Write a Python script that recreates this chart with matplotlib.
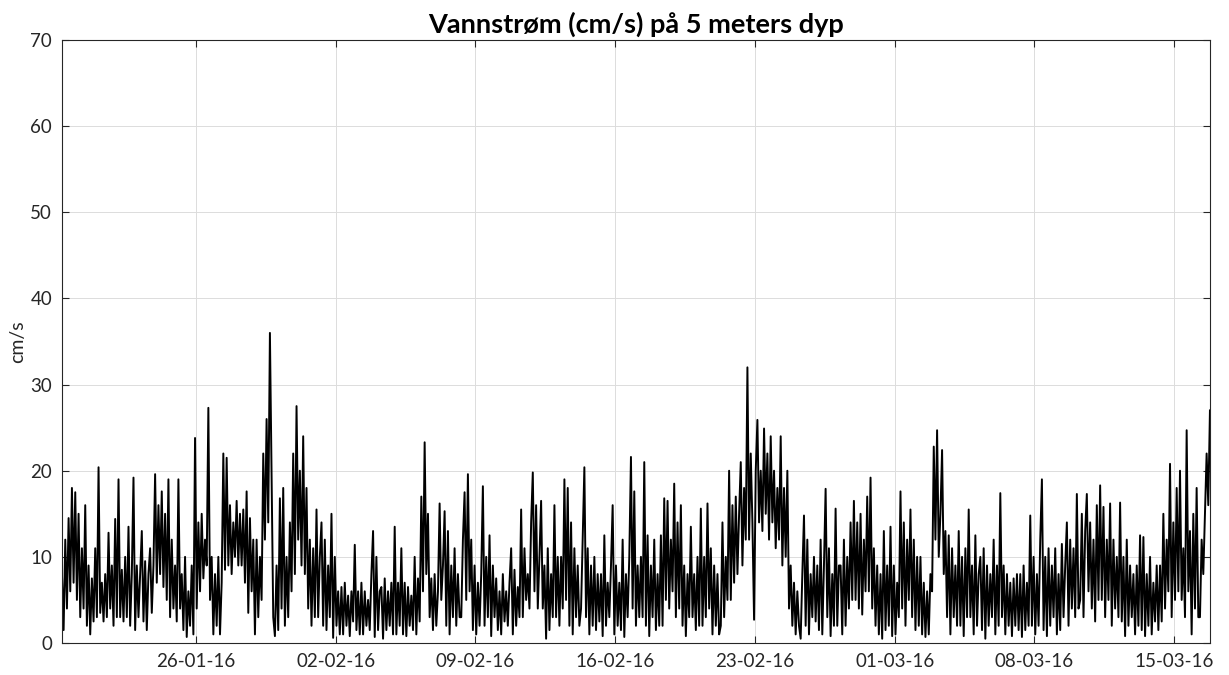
import numpy as np
import pandas as pd
import matplotlib
matplotlib.use("Agg")
import matplotlib.pyplot as plt
import matplotlib.dates as mdates

# Current speed at 5 m depth (cm/s), 2-hourly values starting 19-01-2016 07:00
speed_w1 = [8.0, 1.5, 12.0, 4.0, 14.5, 6.0, 18.0, 7.0, 17.5, 5.0, 15.0, 3.0,
            11.0, 4.0, 16.0, 2.0, 9.0, 1.0, 7.5, 2.5, 11.0, 3.0, 20.4, 3.5,
            7.0, 2.5, 8.0, 3.0, 12.8, 4.0, 9.0, 2.0, 14.4, 3.0, 19.0, 3.0,
            8.5, 2.5, 10.0, 3.0, 13.5, 2.0, 8.0, 19.2, 1.5, 9.0, 3.0, 8.0,
            13.0, 2.5, 9.5, 1.5, 8.0, 11.0, 3.5, 9.0, 19.6, 7.0, 16.0, 8.0,
            17.6, 6.5, 15.0, 5.0, 19.0, 3.0, 12.0, 4.0, 9.0, 2.5, 19.0, 4.0,
            8.0, 1.5, 10.0, 0.7, 6.0, 2.0, 9.0, 1.0, 23.8, 4.0, 14.0, 6.0]
speed_w2 = [15.0, 7.5, 12.0, 9.0, 27.3, 5.0, 10.0, 1.0, 8.0, 2.0, 10.0, 1.0,
            7.0, 22.0, 8.5, 21.5, 9.0, 16.0, 8.0, 14.0, 10.0, 16.5, 9.0, 15.0,
            9.0, 15.5, 7.0, 17.6, 3.5, 14.5, 6.0, 12.0, 1.0, 12.0, 3.0, 10.0,
            5.0, 22.0, 12.0, 26.0, 14.0, 36.0, 20.0, 3.0, 0.8, 9.0, 1.5, 16.8,
            4.0, 18.0, 2.0, 10.0, 3.0, 14.0, 6.0, 22.0, 8.0, 27.5, 12.0, 20.0,
            9.0, 24.0, 8.0, 18.0, 4.0, 12.0, 2.0, 11.0, 3.0, 15.5, 3.0, 10.0,
            14.0, 2.0, 12.0, 1.5, 9.0, 3.0, 15.0, 0.6, 10.0, 2.0, 6.0, 1.0]
speed_w3 = [6.5, 1.0, 7.0, 2.0, 5.5, 0.8, 6.0, 2.5, 11.4, 1.5, 6.0, 1.0,
            7.0, 1.0, 6.0, 2.0, 5.0, 1.5, 8.0, 13.0, 0.7, 10.0, 1.5, 6.0,
            6.5, 0.5, 7.5, 1.5, 6.0, 2.0, 7.0, 1.0, 13.5, 1.0, 7.0, 2.0,
            11.0, 1.0, 7.0, 0.8, 6.5, 2.0, 5.5, 1.5, 10.0, 1.0, 7.5, 2.5,
            17.0, 6.0, 23.3, 8.0, 15.0, 3.0, 7.5, 1.5, 8.0, 2.0, 6.0, 16.2,
            5.0, 9.0, 15.3, 2.0, 13.0, 1.0, 9.0, 3.0, 11.0, 2.0, 8.0, 3.0,
            3.0, 12.0, 17.5, 5.0, 19.6, 6.0, 12.0, 1.5, 9.0, 1.0, 7.0, 2.0]
speed_w4 = [8.0, 18.2, 2.0, 10.0, 3.0, 12.5, 0.8, 9.0, 3.0, 7.5, 1.5, 6.0,
            1.0, 8.0, 2.5, 6.0, 2.0, 7.0, 11.0, 1.0, 8.5, 2.0, 6.5, 3.0,
            15.5, 3.0, 11.0, 5.0, 8.0, 4.0, 14.0, 19.8, 6.0, 16.0, 4.0, 10.0,
            16.5, 4.0, 9.0, 0.5, 11.0, 1.5, 8.0, 3.0, 16.0, 3.0, 10.0, 2.0,
            10.0, 4.0, 19.0, 5.0, 18.0, 2.0, 14.0, 1.0, 11.0, 3.0, 9.0, 2.0,
            4.0, 12.0, 20.4, 3.0, 11.0, 1.0, 9.0, 2.0, 10.0, 1.5, 8.0, 2.5,
            8.0, 0.8, 12.5, 2.0, 7.0, 3.0, 9.0, 16.0, 1.0, 9.0, 2.0, 7.0]
speed_w5 = [1.5, 12.0, 0.7, 8.0, 3.0, 10.0, 21.6, 4.0, 17.6, 2.0, 9.0, 3.0,
            10.0, 3.0, 21.0, 2.0, 12.5, 0.8, 9.0, 3.0, 12.0, 1.5, 8.0, 2.0,
            12.5, 2.0, 16.8, 5.0, 16.5, 4.0, 12.0, 6.0, 18.5, 3.0, 14.0, 4.0,
            16.0, 2.0, 9.0, 0.8, 8.0, 3.0, 13.5, 3.0, 8.0, 1.5, 10.0, 2.0,
            15.6, 2.0, 10.0, 3.0, 16.2, 4.0, 11.0, 1.0, 9.0, 2.0, 8.0, 1.0,
            2.0, 14.0, 3.0, 10.0, 5.0, 20.0, 5.0, 16.0, 7.0, 17.0, 8.0, 15.0,
            21.0, 9.0, 18.0, 12.0, 32.0, 12.0, 22.0, 14.0, 2.7, 20.0, 25.9, 14.0]
speed_w6 = [20.0, 13.0, 24.9, 15.0, 22.0, 12.0, 24.0, 14.0, 20.0, 11.0, 18.0, 12.0,
            24.0, 9.0, 18.0, 10.0, 20.0, 4.0, 9.0, 2.0, 7.0, 1.0, 6.0, 2.0,
            0.5, 8.0, 14.8, 2.0, 12.0, 1.0, 8.0, 3.0, 10.0, 2.5, 9.0, 1.5,
            12.0, 1.0, 9.0, 17.9, 3.0, 11.0, 0.8, 8.0, 2.0, 15.6, 2.0, 9.0,
            9.0, 1.0, 12.0, 2.0, 10.0, 4.0, 14.0, 5.0, 16.5, 5.0, 14.0, 4.0,
            15.0, 3.3, 12.0, 6.0, 17.0, 6.0, 19.2, 4.0, 11.0, 2.0, 9.0, 1.0,
            8.0, 0.5, 13.0, 1.5, 9.0, 2.0, 13.5, 0.8, 9.0, 1.0, 7.0, 3.0]
speed_w7 = [17.6, 4.0, 14.0, 2.0, 12.0, 5.0, 15.5, 3.0, 12.0, 1.5, 10.0, 2.0,
            10.0, 1.0, 7.0, 0.7, 6.0, 1.0, 8.0, 6.0, 22.8, 12.0, 24.7, 10.0,
            15.0, 22.4, 8.0, 13.0, 3.0, 12.5, 1.0, 11.0, 3.0, 9.0, 2.0, 13.0,
            2.0, 10.0, 0.8, 11.0, 3.0, 15.5, 3.0, 9.0, 1.0, 12.5, 2.0, 8.0,
            10.0, 1.5, 11.0, 0.5, 9.0, 2.0, 8.0, 3.0, 12.0, 1.0, 9.0, 2.0,
            17.4, 3.0, 9.0, 1.0, 8.0, 2.0, 7.0, 0.8, 7.5, 2.0, 8.0, 1.5,
            8.0, 0.7, 9.0, 1.5, 7.0, 2.0, 14.8, 2.0, 10.0, 1.0, 8.0, 2.0]
speed_w8 = [12.0, 19.0, 1.5, 10.0, 0.8, 11.0, 2.0, 9.0, 3.0, 11.0, 1.0, 8.0,
            1.5, 11.5, 3.0, 9.0, 14.0, 2.0, 12.0, 4.0, 11.0, 3.0, 17.3, 4.0,
            5.0, 15.0, 3.0, 13.0, 17.3, 6.0, 14.0, 4.0, 12.0, 2.5, 16.0, 5.0,
            18.3, 5.0, 15.8, 3.0, 12.0, 5.0, 16.2, 2.0, 12.0, 4.0, 10.0, 3.0,
            16.3, 2.5, 10.0, 0.8, 12.0, 2.0, 9.0, 3.0, 8.0, 1.0, 9.0, 2.0,
            12.5, 1.5, 12.3, 0.8, 8.0, 2.0, 10.0, 1.0, 7.0, 2.5, 9.0, 1.5,
            9.0, 2.5, 15.0, 4.0, 12.0, 6.0, 20.8, 3.0, 14.0, 5.0, 18.0, 6.0]
speed_w9 = [20.0, 5.0, 11.0, 3.0, 24.7, 6.0, 13.0, 1.0, 15.0, 4.0, 18.0, 3.0,
            3.0, 12.0, 8.0, 15.0, 22.0, 16.0, 27.0]

start_time = "2016-01-19 07:00"
tick_dates = ["2016-01-26", "2016-02-02", "2016-02-09", "2016-02-16",
              "2016-02-23", "2016-03-01", "2016-03-08", "2016-03-15"]
y_ticks = [0, 10, 20, 30, 40, 50, 60, 70]

speed = np.concatenate([speed_w1, speed_w2, speed_w3, speed_w4, speed_w5,
                        speed_w6, speed_w7, speed_w8, speed_w9])
times = pd.date_range(start_time, periods=len(speed), freq="2h")

plt.rcParams["font.family"] = ["Lato", "DejaVu Sans"]

fig = plt.figure(figsize=(12.29, 6.75), dpi=100)
ax = fig.add_axes([0.0504, 0.0474, 0.9341, 0.8933])

ax.plot(times, speed, color="black", linewidth=1.4)

ax.set_xlim(times[0], times[-1])
ax.set_ylim(0, 70)
ax.set_yticks(y_ticks)
ax.set_xticks(pd.to_datetime(tick_dates))
ax.xaxis.set_major_formatter(mdates.DateFormatter("%d-%m-%y"))

ax.grid(True, color="#dcdcdc", linewidth=0.7)
ax.set_axisbelow(True)
for spine in ax.spines.values():
    spine.set_color("#262626")
    spine.set_linewidth(0.8)
ax.tick_params(direction="in", top=True, right=True, length=5,
               colors="#262626", labelsize=13.5, width=0.8, pad=7)

ax.set_ylabel("cm/s", fontsize=14, color="#262626", labelpad=3)
ax.set_title("Vannstrøm (cm/s) på 5 meters dyp", fontsize=19.5,
             fontweight="bold", color="black", pad=5)

fig.savefig("out.png", dpi=100, facecolor="white")
